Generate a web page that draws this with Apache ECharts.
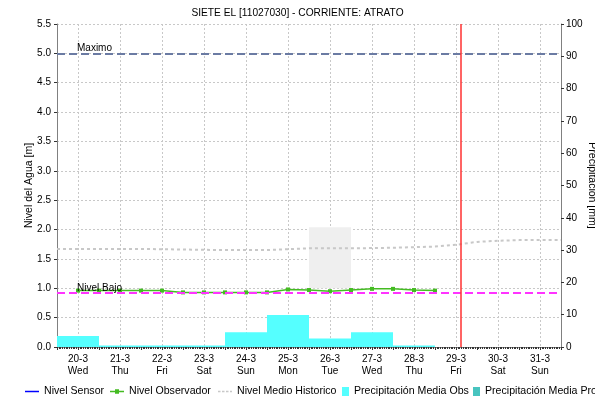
<!DOCTYPE html>
<html>
<head>
<meta charset="utf-8">
<script src="https://cdn.jsdelivr.net/npm/echarts@6/dist/echarts.min.js"></script>
<style>
html, body { margin: 0; padding: 0; background: #fff; }
#chart { width: 595px; height: 401px; }
</style>
</head>
<body>
<div id="chart"></div>
<script>
// dias del eje x (x = dias desde 20-3 00:00)
var fechas = ['20-3', '21-3', '22-3', '23-3', '24-3', '25-3', '26-3', '27-3', '28-3', '29-3', '30-3', '31-3'];
var diasSemana = ['Wed', 'Thu', 'Fri', 'Sat', 'Sun', 'Mon', 'Tue', 'Wed', 'Thu', 'Fri', 'Sat', 'Sun'];

// nivel observador, cada medio dia
var obsX = [0.5, 1, 1.5, 2, 2.5, 3, 3.5, 4, 4.5, 5, 5.5, 6, 6.5, 7, 7.5, 8, 8.5, 9];
var obsY = [0.96, 0.96, 0.96, 0.96, 0.96, 0.93, 0.93, 0.93, 0.93, 0.93, 0.98, 0.97, 0.95, 0.97, 0.99, 0.99, 0.97, 0.96];

// nivel medio historico
var histX = [0, 1, 2, 3, 4, 5, 6, 7, 8, 9, 9.5, 10, 10.5, 11, 12];
var histY = [1.67, 1.67, 1.67, 1.66, 1.65, 1.65, 1.68, 1.68, 1.69, 1.71, 1.74, 1.79, 1.81, 1.82, 1.82];

// precipitacion media observada por dia [mm]
var precX = [0.5, 1.5, 2.5, 3.5, 4.5, 5.5, 6.5, 7.5, 8.5];
var precY = [3.4, 0.5, 0.5, 0.5, 4.6, 9.9, 2.6, 4.6, 0.5];

// niveles de referencia [m]
var nivelMaximo = 5.0;
var nivelBajo = 0.92;
// rango sombreado (26-3)
var rangoX = [6, 7];
var rangoY = [1.0, 2.04];
// hora actual (29-3 ~14:40)
var ahora = 9.61;

function pares(xs, ys){
	var res = [];
	for(var i = 0; i < xs.length; i++) res.push([xs[i], ys[i]]);
	return res;
}

// iconos de la leyenda (14x9)
var iconoLinea = 'path://M0,4h14v1.5h-14z';
var iconoMarca = 'path://M0,4h5v-1.5h4v1.5h5v1.5h-5v1.5h-4v-1.5h-5z';
var iconoPuntos = 'path://M0,4h2.5v1.5h-2.5zM4,4h2.5v1.5h-2.5zM8,4h2.5v1.5h-2.5zM12,4h2v1.5h-2z';
var iconoCuadro = 'path://M0,0h7v9h-7z';

var fuente = 'Liberation Sans';

// una leyenda por serie, para colocar cada una como en el original
function leyenda(nombre, icono, izq, ancho){
	return {
		top: 386, left: izq, padding: 0,
		itemWidth: ancho, itemHeight: 9,
		textStyle: { fontSize: 10.6, color: '#000', fontFamily: fuente },
		data: [{ name: nombre, icon: icono }]
	};
}

var chart = echarts.init(document.getElementById('chart'));
chart.setOption({
	animation: false,
	textStyle: { fontFamily: fuente, color: '#000' },
	title: {
		text: 'SIETE EL [11027030] - CORRIENTE: ATRATO',
		left: 'center', top: 3,
		textStyle: { fontSize: 10.2, fontWeight: 'normal', color: '#000', fontFamily: fuente }
	},
	legend: [
		leyenda('Nivel Sensor', iconoLinea, 25, 14),
		leyenda('Nivel Observador', iconoMarca, 110, 14),
		leyenda('Nivel Medio Historico', iconoPuntos, 218, 14),
		leyenda('Precipitación Media Obs', iconoCuadro, 342, 7),
		leyenda('Precipitación Media Pro', iconoCuadro, 473, 7)
	],
	grid: { left: 57, right: 34, top: 24, bottom: 54, outerBoundsMode: 'none', containLabel: false },
	xAxis: {
		type: 'value', min: 0, max: 12, interval: 0.5,
		axisLine: { lineStyle: { color: '#808080', width: 1 } },
		axisTick: { show: true, length: 3, lineStyle: { color: '#333' } },
		minorTick: { show: true, splitNumber: 12, length: 2, lineStyle: { color: '#333' } },
		axisLabel: {
			margin: 6, fontSize: 10, lineHeight: 12, color: '#000',
			formatter: function(v){
				if(Math.abs(v % 1 - 0.5) > 0.01) return '';
				var i = Math.floor(v);
				return fechas[i] + '\n' + diasSemana[i];
			}
		},
		splitLine: { show: true, lineStyle: { color: ['rgba(0,0,0,0)', '#c8c8c8'], type: [2, 2] } }
	},
	yAxis: [
		{
			type: 'value', min: 0, max: 5.5, interval: 0.5,
			name: 'Nivel del Agua [m]', nameLocation: 'middle', nameGap: 22, nameMoveOverlap: false,
			nameTextStyle: { fontSize: 10.5, color: '#000' },
			axisLine: { show: true, lineStyle: { color: '#808080' } },
			axisTick: { show: true, length: 3, lineStyle: { color: '#333' } },
			axisLabel: { margin: 6, fontSize: 10, color: '#000', formatter: function(v){ return v.toFixed(1); } },
			splitLine: { lineStyle: { color: '#c8c8c8', type: [2, 2] } }
		},
		{
			type: 'value', min: 0, max: 100, interval: 10,
			name: 'Precipitacion [mm]', nameLocation: 'middle', nameGap: 25, nameRotate: -90, nameMoveOverlap: false,
			nameTextStyle: { fontSize: 10.5, color: '#000' },
			axisLine: { show: true, lineStyle: { color: '#808080' } },
			axisTick: { show: true, length: 3, lineStyle: { color: '#333' } },
			axisLabel: { margin: 5, fontSize: 10, color: '#000' },
			splitLine: { show: false }
		}
	],
	series: [
		{	// precipitacion observada
			name: 'Precipitación Media Obs',
			type: 'bar', yAxisIndex: 1,
			barWidth: 42, barGap: '-100%',
			itemStyle: { color: '#55ffff' },
			data: pares(precX, precY),
			z: 1
		},{	// precipitacion pronosticada (sin datos)
			name: 'Precipitación Media Pro',
			type: 'bar', yAxisIndex: 1,
			barWidth: 42, barGap: '-100%',
			itemStyle: { color: '#48c4bf' },
			data: [],
			z: 1
		},{
			name: 'Nivel Medio Historico',
			type: 'line',
			symbol: 'none',
			lineStyle: { color: '#c8c8c8', width: 2, type: [3, 3] },
			itemStyle: { color: '#c8c8c8' },
			data: pares(histX, histY),
			markArea: {
				silent: true,
				itemStyle: { color: '#efefef' },
				data: [[{ xAxis: rangoX[0], yAxis: rangoY[0] }, { xAxis: rangoX[1], yAxis: rangoY[1] }]]
			},
			z: 2
		},{
			name: 'Nivel Sensor',
			type: 'line',
			symbol: 'none',
			lineStyle: { color: '#0000ff', width: 1.5 },
			itemStyle: { color: '#0000ff' },
			data: [],
			markLine: {
				silent: true, symbol: 'none', animation: false,
				data: [
					{
						yAxis: nivelMaximo,
						lineStyle: { color: '#6b7ba3', width: 2, type: [8, 4] },
						label: { show: true, formatter: 'Maximo', position: 'insideStartTop', distance: [20, 0], fontSize: 10, color: '#000' }
					},{
						yAxis: nivelBajo,
						lineStyle: { color: '#ff33ff', width: 2, type: [8, 4] },
						label: { show: true, formatter: 'Nivel Bajo', position: 'insideStartTop', distance: [20, 0], fontSize: 10, color: '#000' }
					},{
						xAxis: ahora,
						lineStyle: { color: '#ff3030', width: 1.5, type: 'solid' },
						label: { show: false }
					}
				]
			},
			z: 3
		},{
			name: 'Nivel Observador',
			type: 'line',
			symbol: 'rect', symbolSize: 4, showAllSymbol: true,
			lineStyle: { color: '#44bb22', width: 1.5 },
			itemStyle: { color: '#44bb22' },
			data: pares(obsX, obsY),
			z: 4
		}
	]
});
</script>
</body>
</html>
